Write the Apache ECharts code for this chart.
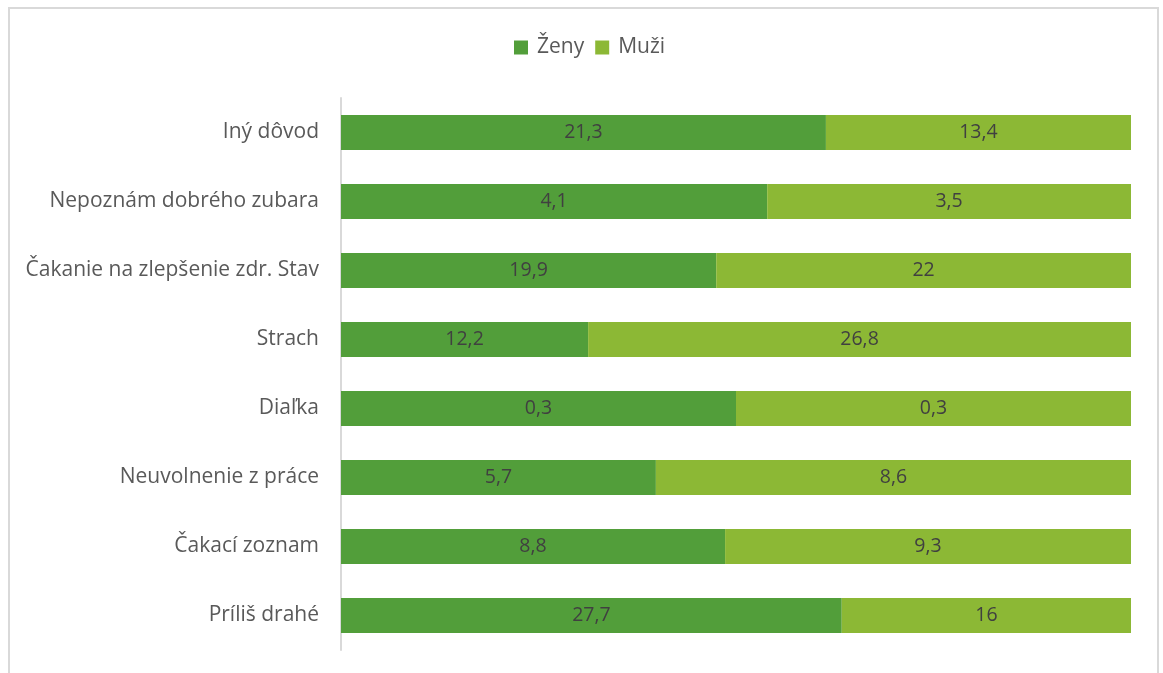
<!DOCTYPE html>
<html>
<head>
<meta charset="utf-8">
<script src="https://cdn.jsdelivr.net/npm/echarts@6/dist/echarts.min.js"></script>
<style>
  html, body { margin: 0; padding: 0; background: #fff; }
  #frame { position: absolute; left: 8px; top: 7px; width: 1151px; height: 680px; border: 2px solid #d9d9d9; box-sizing: border-box; }
  #chart { width: 1163px; height: 673px; position: absolute; left: 0; top: 0; }
</style>
</head>
<body>
<div id="frame"></div>
<div id="chart"></div>
<script>
// Reasons for not visiting a dentist, by sex (top to bottom)
const categories = [
  'Iný dôvod',
  'Nepoznám dobrého zubara',
  'Čakanie na zlepšenie zdr. Stav',
  'Strach',
  'Diaľka',
  'Neuvolnenie z práce',
  'Čakací zoznam',
  'Príliš drahé'
];
const zeny = [21.3, 4.1, 19.9, 12.2, 0.3, 5.7, 8.8, 27.7];
const muzi = [13.4, 3.5, 22, 26.8, 0.3, 8.6, 9.3, 16];

// 100% stacked: each bar segment is its share of the row total
const share = (arr, i) => arr[i] / (zeny[i] + muzi[i]) * 100;
const fmt = v => String(v).replace('.', ',');

const labelStyle = {
  show: true,
  position: 'inside',
  color: '#404040',
  fontSize: 19.5,
  fontFamily: 'Open Sans'
};

function seriesFor(name, arr, color) {
  return {
    name: name,
    type: 'bar',
    stack: 'total',
    barCategoryGap: '49%',
    itemStyle: { color: color },
    label: Object.assign({}, labelStyle, { formatter: p => fmt(arr[p.dataIndex]) }),
    data: arr.map((v, i) => share(arr, i))
  };
}

const chart = echarts.init(document.getElementById('chart'));
chart.setOption({
  animation: false,
  textStyle: { fontFamily: 'Open Sans' },
  legend: {
    top: 32,
    left: 509,
    itemWidth: 14,
    itemHeight: 14,
    itemGap: 11,
    icon: 'rect',
    textStyle: { color: '#595959', fontSize: 21, fontFamily: 'Open Sans', padding: [0, 0, 0, 4] },
    data: ['Ženy', 'Muži']
  },
  grid: { left: 341, right: 32, top: 98, bottom: 23, containLabel: false },
  xAxis: {
    type: 'value',
    min: 0,
    max: 100,
    show: false
  },
  yAxis: {
    type: 'category',
    inverse: true,
    data: categories,
    axisLine: { show: true, lineStyle: { color: '#d9d9d9', width: 2 } },
    axisTick: { show: false },
    axisLabel: { color: '#595959', fontSize: 21, fontFamily: 'Open Sans', margin: 22 }
  },
  series: [
    seriesFor('Ženy', zeny, '#529e3a'),
    seriesFor('Muži', muzi, '#8cb835')
  ]
});
</script>
</body>
</html>
